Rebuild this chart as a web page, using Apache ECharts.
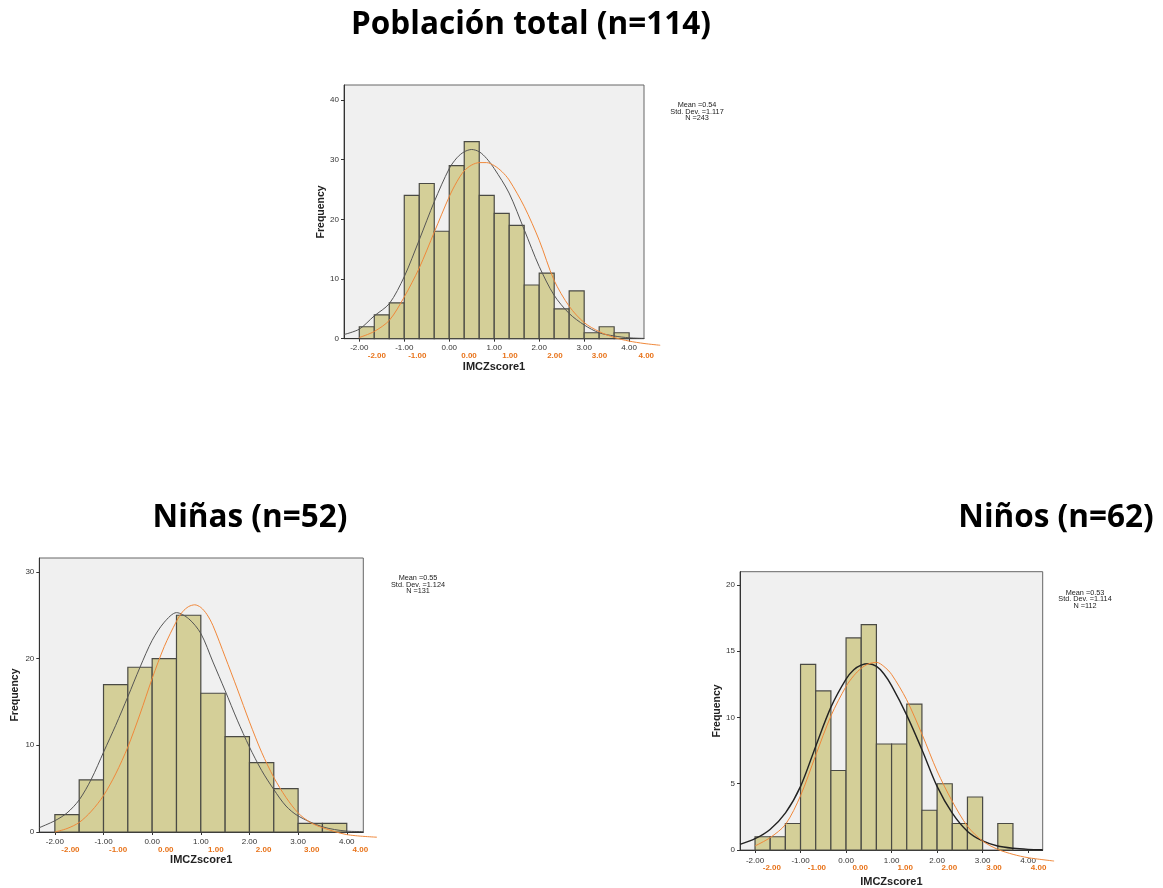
<!DOCTYPE html>
<html>
<head>
<meta charset="utf-8">
<script src="https://cdn.jsdelivr.net/npm/echarts@6/dist/echarts.min.js"></script>
<style>html,body{margin:0;padding:0;background:#fff}#c{width:1163px;height:888px}</style>
</head>
<body>
<div id="c"></div>
<script>
// ---------- DATA ----------
const titles = ['Población total (n=114)', 'Niñas (n=52)', 'Niños (n=62)'];
const xAxisName = 'IMCZscore1';
const yAxisName = 'Frequency';

const xTicks = [-2, -1, 0, 1, 2, 3, 4];
const xTickLabels = ['-2.00', '-1.00', '0.00', '1.00', '2.00', '3.00', '4.00'];
const orangeTickLabels = ['-2.00', '-1.00', '0.00', '1.00', '2.00', '3.00', '4.00'];

const topYTicks = [0, 10, 20, 30, 40];
const girlsYTicks = [0, 10, 20, 30];
const boysYTicks = [0, 5, 10, 15, 20];

// histogram bins: first bin start and bin width, then counts
const topBinStart = -2, topBinWidth = 1 / 3;
const topCounts = [2, 4, 6, 24, 26, 18, 29, 33, 24, 21, 19, 9, 11, 5, 8, 1, 2, 1];
const girlsBinStart = -2, girlsBinWidth = 0.5;
const girlsCounts = [2, 6, 17, 19, 20, 25, 16, 11, 8, 5, 1, 1];
const boysBinStart = -2, boysBinWidth = 1 / 3;
const boysCounts = [1, 1, 2, 14, 12, 6, 16, 17, 8, 8, 11, 3, 5, 2, 4, 0, 2, 0];

// fitted curves: [x, frequency]
const topBlackCurve = [[-2.34,0.7],[-2.0,1.6],[-1.67,3.8],[-1.33,5.9],[-1.0,10.4],[-0.67,16.5],[-0.33,23.0],[0.0,28.5],[0.17,30.3],[0.33,31.3],[0.5,31.7],[0.67,31.3],[0.83,30.2],[1.0,28.5],[1.33,24.4],[1.67,18.2],[2.0,12.1],[2.33,7.3],[2.67,4.2],[3.0,2.3],[3.33,1.0],[3.67,0.45],[4.0,0.15],[4.33,0.05]];
const topOrangeCurve = [[-2.0,0.2],[-1.67,1.2],[-1.33,3.1],[-1.0,7.0],[-0.67,11.8],[-0.33,17.9],[0.0,23.8],[0.17,26.3],[0.33,28.1],[0.5,29.1],[0.67,29.5],[0.83,29.5],[1.0,29.0],[1.17,28.0],[1.33,26.6],[1.67,22.1],[2.0,16.5],[2.33,9.8],[2.67,5.4],[3.0,2.7],[3.33,1.2],[3.67,0.2],[4.0,-0.4],[4.33,-0.8],[4.69,-1.1]];
const girlsBlackCurve = [[-2.32,0.5],[-2.0,1.3],[-1.75,2.2],[-1.5,3.7],[-1.25,6.1],[-1.0,9.2],[-0.75,12.3],[-0.5,15.6],[-0.25,19.0],[0.0,22.1],[0.25,24.2],[0.5,25.3],[0.75,24.6],[1.0,22.9],[1.25,19.6],[1.5,16.3],[1.75,12.9],[2.0,9.8],[2.25,7.1],[2.5,4.9],[2.75,3.0],[3.0,1.85],[3.5,0.6],[4.0,0.1],[4.34,0.05]];
const girlsOrangeCurve = [[-2.0,0.0],[-1.75,0.4],[-1.5,1.1],[-1.25,2.4],[-1.0,4.2],[-0.75,6.7],[-0.5,9.8],[-0.25,13.6],[0.0,17.7],[0.25,21.4],[0.5,24.3],[0.625,25.4],[0.75,26.0],[0.875,26.2],[1.0,25.9],[1.125,25.1],[1.25,23.8],[1.5,20.2],[1.75,16.5],[2.0,12.7],[2.25,9.2],[2.5,6.3],[2.75,4.0],[3.0,2.2],[3.25,1.1],[3.5,0.5],[4.0,-0.3],[4.62,-0.6]];
const boysBlackCurve = [[-2.33,0.43],[-2.0,0.85],[-1.67,1.55],[-1.33,2.8],[-1.0,4.8],[-0.67,7.8],[-0.33,10.8],[0.0,12.9],[0.17,13.6],[0.33,13.95],[0.5,14.05],[0.67,13.85],[0.83,13.3],[1.0,12.4],[1.33,10.2],[1.67,7.55],[2.0,4.8],[2.33,2.8],[2.67,1.4],[3.0,0.68],[3.33,0.3],[3.67,0.13],[4.0,0.05],[4.32,0.02]];
const boysOrangeCurve = [[-2.0,0.43],[-1.67,1.05],[-1.33,2.05],[-1.0,4.2],[-0.67,7.2],[-0.33,10.2],[0.0,12.4],[0.17,13.2],[0.33,13.75],[0.5,14.1],[0.67,14.2],[0.83,13.9],[1.0,13.3],[1.33,11.4],[1.67,8.8],[2.0,6.05],[2.33,3.8],[2.67,1.9],[3.0,0.8],[3.33,0.18],[3.67,-0.2],[4.0,-0.45],[4.57,-0.7]];

// positions (in the black axis units) where the orange overlay labels sit
const topOrangeTickPos = [-1.61, -0.71, 0.44, 1.35, 2.35, 3.34, 4.38];
const girlsOrangeTickPos = [-1.68, -0.70, 0.28, 1.31, 2.29, 3.28, 4.28];
const boysOrangeTickPos = [-1.63, -0.64, 0.31, 1.30, 2.27, 3.25, 4.23];

const topStats = ['Mean =0.54', 'Std. Dev. =1.117', 'N =243'];
const girlsStats = ['Mean =0.55', 'Std. Dev. =1.124', 'N =131'];
const boysStats = ['Mean =0.53', 'Std. Dev. =1.114', 'N =112'];

// ---------- LAYOUT ----------
const FONT = '"Liberation Sans", Arial, sans-serif';
const charts = [
  { left: 344, top: 85, width: 300, height: 253.7, xMin: -2.34, xMax: 4.33, xMaxB: 5.2, yMax: 42.5,
    yTicks: topYTicks, counts: topCounts, binStart: topBinStart, binWidth: topBinWidth,
    black: topBlackCurve, orange: topOrangeCurve, orangePos: topOrangeTickPos, blackW: 1, blackC: '#555',
    xNameGap: 22.5, yNameGap: 17, labelMargin: 5, orangeMargin: 13, stats: topStats, statsX: 697, statsY: 105,
    title: titles[0], titleX: 531, titleY: 25 },
  { left: 39.3, top: 558, width: 324, height: 274, xMin: -2.32, xMax: 4.34, xMaxB: 5.1, yMax: 31.6,
    yTicks: girlsYTicks, counts: girlsCounts, binStart: girlsBinStart, binWidth: girlsBinWidth,
    black: girlsBlackCurve, orange: girlsOrangeCurve, orangePos: girlsOrangeTickPos, blackW: 1, blackC: '#555',
    xNameGap: 22.5, yNameGap: 19, labelMargin: 6, orangeMargin: 13.5, stats: girlsStats, statsX: 418, statsY: 578,
    title: titles[1], titleX: 250, titleY: 518 },
  { left: 740, top: 571.7, width: 302.7, height: 280, xMin: -2.33, xMax: 4.32, xMaxB: 5.1, yMax: 21.0,
    yTicks: boysYTicks, counts: boysCounts, binStart: boysBinStart, binWidth: boysBinWidth,
    black: boysBlackCurve, orange: boysOrangeCurve, orangePos: boysOrangeTickPos, blackW: 1.4, blackC: '#222',
    xNameGap: 26, yNameGap: 16.5, labelMargin: 6.5, orangeMargin: 12, stats: boysStats, statsX: 1085, statsY: 592.5,
    title: titles[2], titleX: 1056, titleY: 518 }
];

const grid = [], xAxis = [], yAxis = [], series = [], graphic = [];

charts.forEach((c, i) => {
  const a = 2 * i, b = 2 * i + 1;
  const wB = c.width * (c.xMaxB - c.xMin) / (c.xMax - c.xMin);
  grid.push({ left: c.left, top: c.top, width: c.width, height: c.height, show: true,
    backgroundColor: '#f0f0f0', borderColor: '#666', borderWidth: 1 });
  grid.push({ left: c.left, top: c.top, width: wB, height: c.height, show: false });

  xAxis.push({ gridIndex: a, type: 'value', min: c.xMin, max: c.xMax,
    axisLine: { show: true, onZero: false, lineStyle: { color: '#333', width: 1 } },
    axisTick: { show: true, customValues: xTicks, length: 3, lineStyle: { color: '#333' } },
    axisLabel: { customValues: xTicks, formatter: v => xTickLabels[xTicks.indexOf(v)] ?? '',
      fontSize: 8, color: '#333', margin: c.labelMargin, fontFamily: FONT },
    splitLine: { show: false },
    name: xAxisName, nameLocation: 'middle', nameGap: c.xNameGap,
    nameTextStyle: { fontWeight: 'bold', fontSize: 11, color: '#222', fontFamily: FONT } });
  xAxis.push({ gridIndex: b, type: 'value', min: c.xMin, max: c.xMaxB,
    axisLine: { show: false }, axisTick: { show: false }, splitLine: { show: false },
    axisLabel: { customValues: c.orangePos, formatter: v => orangeTickLabels[c.orangePos.indexOf(v)] ?? '',
      fontSize: 8, fontWeight: 'bold', color: '#E8731A', margin: c.orangeMargin, fontFamily: FONT } });

  yAxis.push({ gridIndex: a, type: 'value', min: 0, max: c.yMax,
    axisLine: { show: true, onZero: false, lineStyle: { color: '#333', width: 1 } },
    axisTick: { show: true, customValues: c.yTicks, length: 3, lineStyle: { color: '#333' } },
    axisLabel: { customValues: c.yTicks, fontSize: 8, color: '#333', margin: 5, fontFamily: FONT },
    splitLine: { show: false },
    name: yAxisName, nameLocation: 'middle', nameGap: c.yNameGap, nameRotate: 90,
    nameTextStyle: { fontWeight: 'bold', fontSize: 10.5, color: '#222', fontFamily: FONT } });
  yAxis.push({ gridIndex: b, type: 'value', min: 0, max: c.yMax, show: false });

  const bars = c.counts.map((n, k) => [c.binStart + k * c.binWidth, c.binStart + (k + 1) * c.binWidth, n]);
  series.push({ type: 'custom', xAxisIndex: a, yAxisIndex: a, data: bars, encode: { x: [0, 1], y: 2 },
    renderItem: (params, api) => {
      if (api.value(2) <= 0) return null;
      const p0 = api.coord([api.value(0), api.value(2)]);
      const p1 = api.coord([api.value(1), 0]);
      return { type: 'rect', shape: { x: p0[0], y: p0[1], width: p1[0] - p0[0], height: p1[1] - p0[1] },
        style: { fill: '#d4cf98', stroke: '#4a4a44', lineWidth: 1.2 } };
    }, z: 2 });
  series.push({ type: 'line', xAxisIndex: a, yAxisIndex: a, data: c.black, smooth: 0.3, symbol: 'none',
    lineStyle: { color: c.blackC, width: c.blackW }, z: 3, silent: true });
  series.push({ type: 'line', xAxisIndex: b, yAxisIndex: b, data: c.orange, smooth: 0.3, symbol: 'none',
    clip: false, lineStyle: { color: '#F0883A', width: 1 }, z: 4, silent: true });

  c.stats.forEach((t, k) => graphic.push({ type: 'text', x: c.statsX, y: c.statsY + k * 6.5,
    style: { text: t, fontSize: 7.3, fontFamily: FONT, fill: '#222', align: 'center', verticalAlign: 'middle' } }));
  graphic.push({ type: 'text', x: c.titleX, y: c.titleY,
    style: { text: c.title, fontSize: 31.5, fontWeight: 'bold', fontFamily: '"Open Sans", "Noto Sans", sans-serif',
      fill: '#000', align: 'center', verticalAlign: 'middle' } });
});

const chart = echarts.init(document.getElementById('c'), null, { renderer: 'canvas' });
chart.setOption({ animation: false, backgroundColor: '#fff', grid, xAxis, yAxis, series, graphic });
</script>
</body>
</html>
